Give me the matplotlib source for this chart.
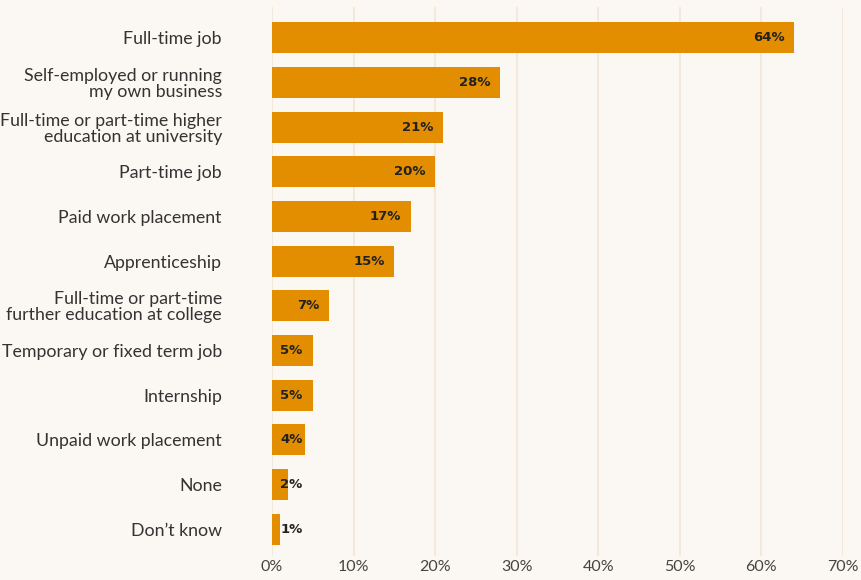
import matplotlib.pyplot as plt

# Share of respondents per pathway
categories = [
    "Full-time job",
    "Self-employed or running\nmy own business",
    "Full-time or part-time higher\neducation at university",
    "Part-time job",
    "Paid work placement",
    "Apprenticeship",
    "Full-time or part-time\nfurther education at college",
    "Temporary or fixed term job",
    "Internship",
    "Unpaid work placement",
    "None",
    "Don\u2019t know",
]
values = [64, 28, 21, 20, 17, 15, 7, 5, 5, 4, 2, 1]
xticks = [0, 10, 20, 30, 40, 50, 60, 70]

bg = "#fbf8f3"
bar_color = "#e38e00"
grid_color = "#f3e5d3"

fig = plt.figure(figsize=(8.62, 5.8), dpi=100, facecolor=bg)
ax = fig.add_axes([272 / 862, 24 / 580, 571 / 862, 549 / 580])
ax.set_facecolor(bg)

ypos = list(range(len(categories)))
ax.barh(ypos, values, height=0.69, color=bar_color, zorder=2)

# value labels: inside the bar end, or from the axis for short bars
for y, v in zip(ypos, values):
    if v >= 6:
        ax.text(v - 1.2, y, f"{v}%", ha="right", va="center",
                fontsize=9.5, fontweight="heavy", color="#222222", zorder=3)
    else:
        ax.text(1.0, y, f"{v}%", ha="left", va="center",
                fontsize=9.5, fontweight="heavy", color="#222222", zorder=3)

ax.set_xlim(0, 70)
ax.set_ylim(11.6, -0.69)
ax.set_xticks(xticks)
ax.set_xticklabels([f"{t}%" for t in xticks], fontsize=11.5, color="#444444",
                   family="Lato")
ax.set_yticks(ypos)
ax.set_yticklabels(categories, fontsize=12.8, color="#333333", family="Lato",
                   linespacing=1.0)
ax.tick_params(axis="both", length=0)
ax.tick_params(axis="y", pad=36)
ax.tick_params(axis="x", pad=3)

ax.grid(axis="x", color=grid_color, linewidth=1.2, zorder=0)
for s in ax.spines.values():
    s.set_visible(False)

plt.savefig("out.png", facecolor=bg)
